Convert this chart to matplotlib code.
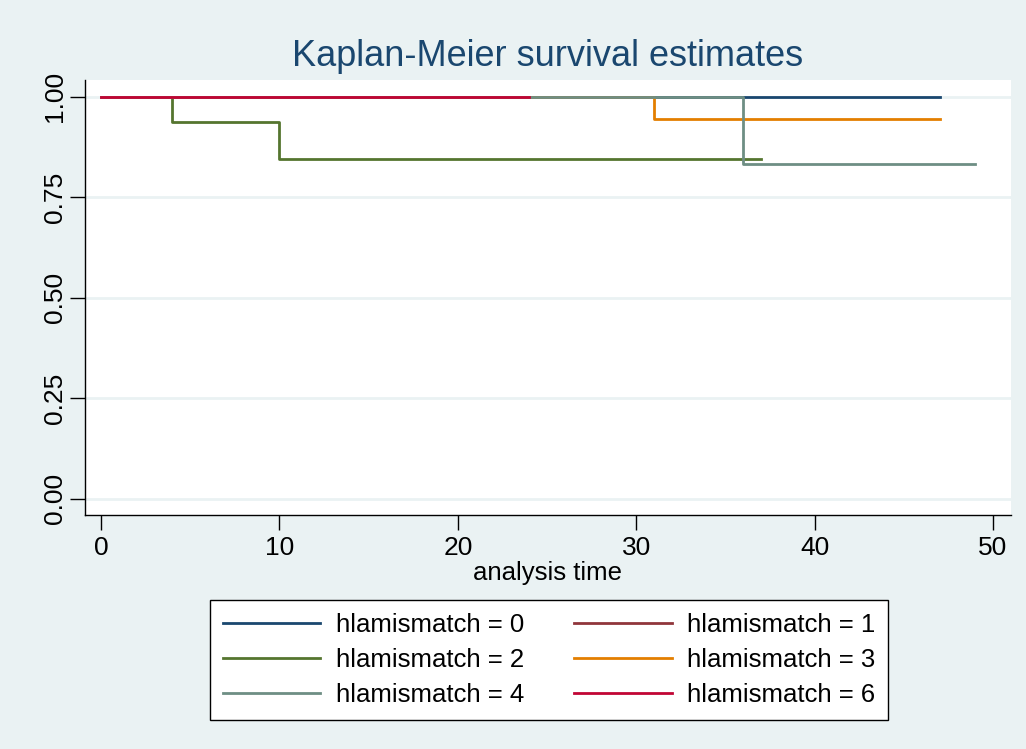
import matplotlib
matplotlib.use("Agg")
import matplotlib.pyplot as plt

plt.rcParams["font.family"] = ["Liberation Sans", "DejaVu Sans"]

# Kaplan-Meier step curves, one per hlamismatch group
groups = ["hlamismatch = 0", "hlamismatch = 1", "hlamismatch = 2",
          "hlamismatch = 3", "hlamismatch = 4", "hlamismatch = 6"]
times = [
    [0, 47],
    [0, 24],
    [0, 4, 10, 37],
    [0, 31, 47],
    [0, 36, 49],
    [0, 24],
]
surv = [
    [1.0, 1.0],
    [1.0, 1.0],
    [1.0, 0.9375, 0.846, 0.846],
    [1.0, 0.9444, 0.9444],
    [1.0, 0.8333, 0.8333],
    [1.0, 1.0],
]
colors = ["#1a476f", "#90353b", "#55752f", "#e37e00", "#6e8e84", "#c10534"]

xticks = [0, 10, 20, 30, 40, 50]
yticks = [0.0, 0.25, 0.50, 0.75, 1.00]

bg = "#eaf2f3"
fig = plt.figure(figsize=(10.26, 7.49), dpi=100, facecolor=bg)
ax = fig.add_axes([0.0828, 0.3124, 0.9025, 0.5808])
ax.set_facecolor("white")

for t, s, c, lab in zip(times, surv, colors, groups):
    ax.step(t, s, where="post", color=c, lw=2.0, label=lab, zorder=3)

ax.set_xlim(-0.9, 51.0)
ax.set_ylim(-0.040, 1.042)
ax.set_xticks(xticks)
ax.set_yticks(yticks)
ax.set_yticklabels([f"{v:.2f}" for v in yticks], rotation=90, va="center")
ax.tick_params(axis="both", labelsize=19, length=11, width=1.0, color="black")
ax.tick_params(axis="x", pad=4)
ax.tick_params(axis="y", pad=2)
ax.yaxis.grid(True, color=bg, lw=2.0, zorder=1)
ax.set_axisbelow(True)

for side in ["top", "right"]:
    ax.spines[side].set_visible(False)
for side in ["left", "bottom"]:
    ax.spines[side].set_linewidth(1.0)

ax.set_xlabel("analysis time", fontsize=18.5)
ax.xaxis.set_label_coords(0.5, -0.106)
fig.text(0.534, 0.924, "Kaplan-Meier survival estimates", ha="center", va="center",
         fontsize=26, color="#1a476f")

# legend filled row by row: matplotlib fills columns, so reorder
handles, labels = ax.get_legend_handles_labels()
order = [0, 2, 4, 1, 3, 5]
leg = fig.legend([handles[i] for i in order], [labels[i] for i in order],
                 loc="center", bbox_to_anchor=(0.535, 0.1188),
                 ncol=2, fontsize=18.5, frameon=True, fancybox=False,
                 edgecolor="black", facecolor="white", framealpha=1,
                 handlelength=3.8, columnspacing=1.95, labelspacing=0.42,
                 borderpad=0.5, handletextpad=0.6)
leg.get_frame().set_linewidth(1.0)

fig.savefig("out.png", dpi=100, facecolor=bg)
